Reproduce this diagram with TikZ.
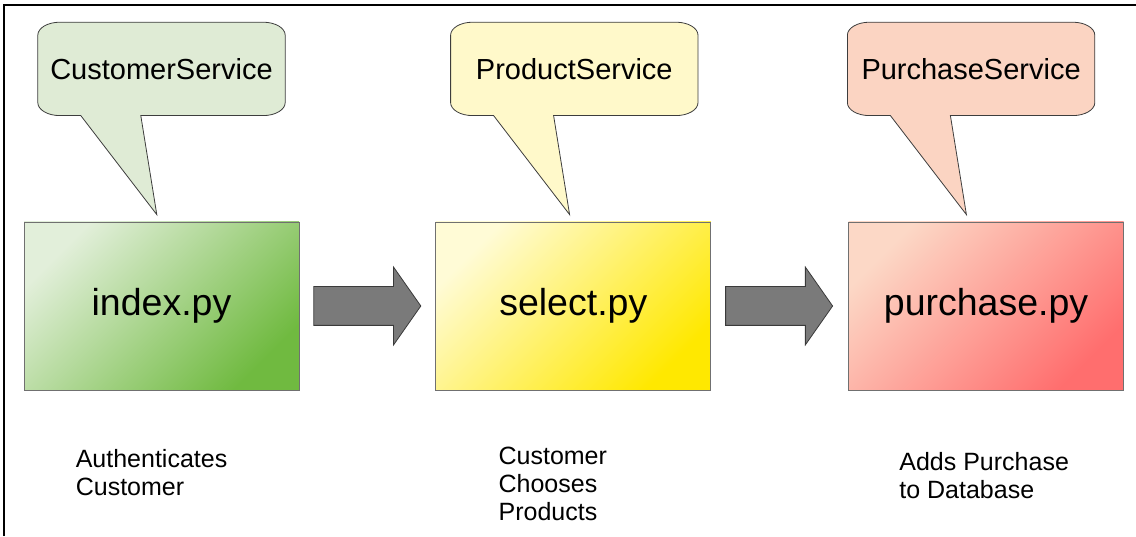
\documentclass[tikz,border=0pt]{standalone}
\usepackage{fontspec}
\setmainfont{Liberation Sans}
\usetikzlibrary{positioning,shapes.arrows,backgrounds}
\definecolor{idxtop}{HTML}{E2EFDA}
\definecolor{idxbot}{HTML}{70BA40}
\definecolor{seltop}{HTML}{FFFBD6}
\definecolor{selbot}{HTML}{FFE800}
\definecolor{purtop}{HTML}{FCD8C6}
\definecolor{purbot}{HTML}{FF6E6E}
\definecolor{fillcs}{HTML}{DFEBD5}
\definecolor{fillps}{HTML}{FFF9CA}
\definecolor{fillpus}{HTML}{FBD4C2}
\definecolor{boxline}{HTML}{707070}
\definecolor{bubbleline}{HTML}{3D3D3D}
\definecolor{flowfill}{HTML}{7A7A7A}
\definecolor{flowline}{HTML}{3A3A3A}

\begin{document}
\begin{tikzpicture}
	[
		x=1pt, y=1pt,
		every node/.style={inner sep=0pt},
		script/.style={draw=boxline, line width=0.8pt, minimum width=275pt, minimum height=168pt, font=\fontsize{37.5}{40}\selectfont},
		service/.style={minimum width=247pt, minimum height=93pt, font=\fontsize{29}{32}\selectfont},
		bubble/.style={draw=bubbleline, line width=0.8pt},
		flow/.style={single arrow, fill=flowfill, draw=flowline, line width=0.8pt, inner ysep=19pt, minimum height=107pt, minimum width=77pt, single arrow head extend=19.5pt, single arrow tip angle=110, single arrow head indent=0pt},
		note/.style={align=left, font=\fontsize{25}{28}\selectfont}
	]
	\useasboundingbox (0,0) rectangle (1136,536);
	\draw[line width=2.5pt] (4.2,0) -- (4.2,531) -- (1136,531);

	\node(idx) at (161.5,230) [script, top color=idxtop, bottom color=idxbot, shading angle=45] {index.py};
	\node(sel) [script, right = 136pt of idx, top color=seltop, bottom color=selbot, shading angle=45] {select.py};
	\node(pur) [script, right = 137pt of sel, top color=purtop, bottom color=purbot, shading angle=45] {purchase.py};

	\node(go1) [flow, right = 14pt of idx] {};
	\node(go2) [flow, right = 14pt of sel] {};

	\node(cs) [service, above = 106pt of idx] {CustomerService};
	\node(ps) [service, above = 106pt of sel, xshift=1pt] {ProductService};
	\node(pus) [service, above = 106pt of pur, xshift=-15pt] {PurchaseService};

	\begin{scope}[on background layer]
	\foreach \b in {cs,ps,pus}
		\draw[bubble, fill=fill\b] ([xshift=43pt]\b.south west) -- ([xshift=119pt,yshift=-99pt]\b.south west) -- ([xshift=103pt]\b.south west)
			-- ([xshift=-22pt]\b.south east) arc[start angle=-90, end angle=0, x radius=22pt, y radius=13pt]
			-- ([yshift=-13pt]\b.north east) arc[start angle=0, end angle=90, x radius=22pt, y radius=13pt]
			-- ([xshift=22pt]\b.north west) arc[start angle=90, end angle=180, x radius=22pt, y radius=13pt]
			-- ([yshift=13pt]\b.south west) arc[start angle=180, end angle=270, x radius=22pt, y radius=13pt]
			-- cycle;
	\end{scope}

	\node(idxnote) [note, below right = 59pt and 52pt of idx.south west] {Authenticates\\Customer};
	\node(selnote) [note, below right = 56pt and 63pt of sel.south west] {Customer\\Chooses\\Products};
	\node(purnote) [note, below right = 62pt and 51pt of pur.south west] {Adds Purchase\\to Database};
\end{tikzpicture}
\end{document}
